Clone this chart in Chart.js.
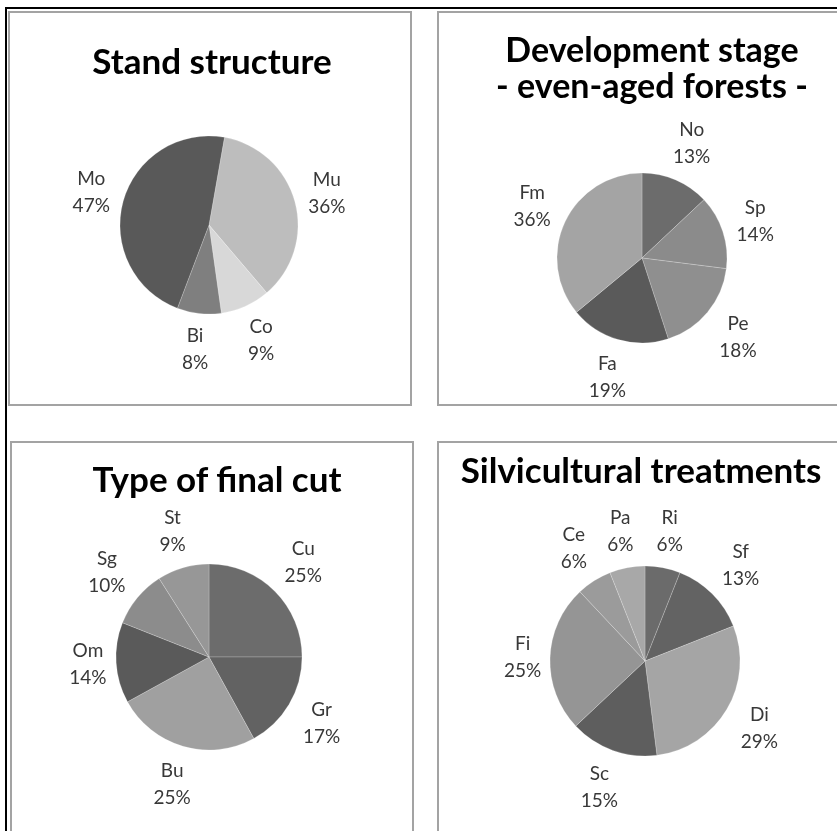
<!DOCTYPE html>
<html>
<head>
<meta charset="utf-8">
<script src="https://cdn.jsdelivr.net/npm/chart.js@4.4.0/dist/chart.umd.min.js"></script>
<style>
  body { margin: 0; background: #fff; width: 837px; height: 831px; overflow: hidden; position: relative; font-family: Lato, sans-serif; }
  #frame { position: absolute; left: 5px; top: 7px; width: 850px; height: 850px; border-left: 2px solid #000; border-top: 2px solid #000; }
  .panel { position: absolute; border: 2px solid #a3a3a3; box-sizing: border-box; background: #fff; }
  .panel canvas { position: absolute; left: 0; top: 0; }
  .title { position: absolute; font-weight: bold; font-size: 35px; line-height: 1.2; color: #000; white-space: nowrap; transform: translateX(-50%); text-align: center; }
</style>
</head>
<body>
<div id="frame"></div>

<div class="panel" style="left:8px;top:11px;width:404px;height:395px;">
  <canvas id="standChart" width="400" height="391"></canvas>
</div>
<div class="panel" style="left:437px;top:11px;width:420px;height:395px;">
  <canvas id="devChart" width="416" height="391"></canvas>
</div>
<div class="panel" style="left:10px;top:441px;width:404px;height:420px;">
  <canvas id="cutChart" width="400" height="416"></canvas>
</div>
<div class="panel" style="left:437px;top:441px;width:420px;height:420px;">
  <canvas id="silvChart" width="416" height="416"></canvas>
</div>

<div class="title" style="left:212px;top:39px;">Stand structure</div>
<div class="title" style="left:652px;top:31px;font-size:34px;line-height:36px;">Development stage<br>- even-aged forests -</div>
<div class="title" style="left:217px;top:457px;">Type of final cut</div>
<div class="title" style="left:641px;top:448px;">Silvicultural treatments</div>

<script>
// values in percent, clockwise from the top
var standLabels = ['Mu', 'Co', 'Bi', 'Mo'];
var standValues = [36, 9, 8, 47];

var devLabels = ['No', 'Sp', 'Pe', 'Fa', 'Fm'];
var devValues = [13, 14, 18, 19, 36];

var cutLabels = ['Cu', 'Gr', 'Bu', 'Om', 'Sg', 'St'];
var cutValues = [25, 17, 25, 14, 10, 9];

var silvLabels = ['Ri', 'Sf', 'Di', 'Sc', 'Fi', 'Ce', 'Pa'];
var silvValues = [6, 13, 29, 15, 25, 6, 6];

// greys
var standColors = ['#bdbdbd', '#d8d8d8', '#7f7f7f', '#595959'];
var devColors = ['#6c6c6c', '#8b8b8b', '#8f8f8f', '#5a5a5a', '#a4a4a4'];
var cutColors = ['#6c6c6c', '#626262', '#a0a0a0', '#5a5a5a', '#8c8c8c', '#979797'];
var silvColors = ['#6b6b6b', '#636363', '#a5a5a5', '#5e5e5e', '#959595', '#9b9b9b', '#a8a8a8'];

// "Mo / 47%" labels outside each slice
var outsideLabels = {
  id: 'outsideLabels',
  afterDatasetsDraw: function(chart) {
    var ctx = chart.ctx;
    var meta = chart.getDatasetMeta(0);
    var ds = chart.data.datasets[0];
    var lh = 27, gap = 8;
    ctx.save();
    ctx.font = '19px Lato';
    ctx.fillStyle = '#383838';
    ctx.textAlign = 'center';
    ctx.textBaseline = 'middle';
    meta.data.forEach(function(arc, i) {
      var p = arc.getProps(['x', 'y', 'startAngle', 'endAngle', 'outerRadius'], true);
      var mid = (p.startAngle + p.endAngle) / 2;
      var ux = Math.cos(mid), uy = Math.sin(mid);
      var lines = [chart.data.labels[i], ds.data[i] + '%'];
      var w = Math.max.apply(null, lines.map(function(t) { return ctx.measureText(t).width; }));
      var h = lines.length * lh;
      var d = p.outerRadius + gap + Math.abs(ux) * w / 2 + Math.abs(uy) * h / 2;
      var cx = p.x + ux * d, cy = p.y + uy * d;
      lines.forEach(function(t, k) {
        ctx.fillText(t, cx, cy + (k - (lines.length - 1) / 2) * lh);
      });
    });
    ctx.restore();
  }
};

function makePie(canvasId, labels, values, colors, rotation, cx, cy, r) {
  var canvas = document.getElementById(canvasId);
  return new Chart(canvas.getContext('2d'), {
    type: 'pie',
    data: {
      labels: labels,
      datasets: [{
        data: values,
        backgroundColor: colors,
        borderColor: 'rgba(255,255,255,0.35)',
        borderWidth: 0.6,
        hoverOffset: 0
      }]
    },
    options: {
      responsive: false,
      animation: false,
      rotation: rotation,
      radius: r,
      layout: {
        padding: { left: cx - r, top: cy - r, right: canvas.width - cx - r, bottom: canvas.height - cy - r }
      },
      plugins: {
        legend: { display: false },
        tooltip: { enabled: false }
      }
    },
    plugins: [outsideLabels]
  });
}

makePie('standChart', standLabels, standValues, standColors, 10, 199, 212, 89);
makePie('devChart', devLabels, devValues, devColors, 0, 203, 245, 85);
makePie('cutChart', cutLabels, cutValues, cutColors, 0, 197, 214, 93);
makePie('silvChart', silvLabels, silvValues, silvColors, 0, 206, 218, 95);
</script>
</body>
</html>
